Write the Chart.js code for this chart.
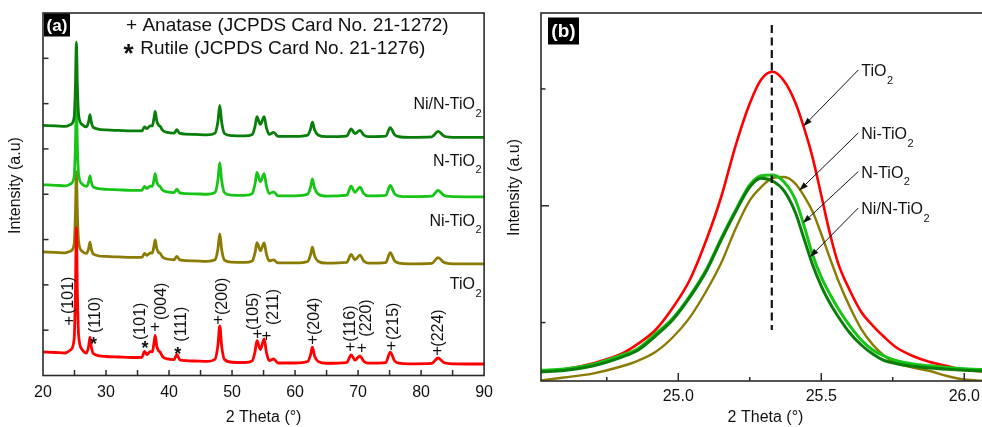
<!DOCTYPE html>
<html>
<head>
<meta charset="utf-8">
<script src="https://cdn.jsdelivr.net/npm/chart.js@4.4.1/dist/chart.umd.min.js"></script>
<style>
  html, body { margin: 0; padding: 0; background: #fff; overflow: hidden; }
  body { width: 982px; height: 427px; position: relative; }
  canvas { position: absolute; top: 0; }
  #xrd-full { left: 0; }
  #xrd-peak { left: 495px; }
</style>
</head>
<body>
<canvas id="xrd-full" width="500" height="427"></canvas>
<canvas id="xrd-peak" width="505" height="427"></canvas>
<script>
const FONT = '"Liberation Sans", Arial, Helvetica, sans-serif';

// ---- (a) full XRD patterns, 2 theta 20-90 ----
const twoTheta = [20, 22, 23.5, 24.4, 24.95, 25.15, 25.3, 25.45, 25.65, 26.2, 26.9, 27.25, 27.45, 27.65, 28,
  30, 32, 34, 35.7, 36.1, 36.5, 37, 37.35, 37.6, 37.8, 38.05, 38.35, 38.6, 38.95, 39.7,
  40.8, 41.25, 41.7, 44, 46, 47.3, 47.75, 48.05, 48.35, 48.8, 50, 52, 53.2, 53.65, 53.95,
  54.5, 55.1, 55.45, 55.9, 56.6, 57.3, 60, 62, 62.45, 62.75, 63.1, 63.7, 65, 68.2, 68.9,
  69.5, 70.3, 70.9, 71.6, 74.4, 75.1, 75.8, 76.5, 78, 81.7, 82.7, 83.6, 84.5, 87, 90];

const tio2 = [519, 508, 497, 569, 815, 1870, 3260, 1867, 891, 575, 496, 651, 847, 647, 482,
  419, 408, 397, 403, 531, 464, 526, 524, 704, 885, 649, 544, 516, 420, 366,
  351, 465, 345, 320, 310, 358, 658, 1093, 655, 352, 292, 287, 323, 526, 768,
  573, 809, 517, 330, 364, 276, 276, 309, 451, 626, 432, 307, 270, 286, 454,
  341, 431, 314, 272, 286, 514, 323, 271, 257, 267, 386, 287, 261, 254, 254];

const niTiO2 = [2727, 2716, 2705, 2748, 2906, 3593, 4497, 3590, 2954, 2744, 2693, 2804, 2945, 2800, 2679,
  2627, 2616, 2605, 2605, 2694, 2651, 2704, 2702, 2848, 2994, 2803, 2717, 2694, 2616, 2571,
  2555, 2631, 2549, 2528, 2518, 2553, 2786, 3124, 2783, 2547, 2500, 2495, 2527, 2712, 2932,
  2754, 2929, 2685, 2529, 2550, 2484, 2484, 2517, 2659, 2834, 2640, 2515, 2478, 2495, 2673,
  2554, 2656, 2527, 2481, 2493, 2711, 2528, 2478, 2465, 2476, 2601, 2497, 2469, 2462, 2462];

const nTiO2 = [4209, 4198, 4187, 4231, 4391, 5086, 6001, 5083, 4439, 4227, 4173, 4275, 4405, 4271, 4159,
  4109, 4098, 4087, 4087, 4176, 4131, 4179, 4177, 4315, 4453, 4272, 4191, 4169, 4096, 4052,
  4037, 4113, 4031, 4010, 4000, 4041, 4308, 4695, 4305, 4035, 3982, 3977, 4015, 4227, 4480,
  4276, 4455, 4187, 4016, 4054, 3966, 3966, 4002, 4152, 4338, 4132, 4000, 3960, 3979, 4177,
  4044, 4154, 4014, 3964, 3975, 4193, 4010, 3960, 3947, 3958, 4083, 3979, 3951, 3944, 3944];

const niNTiO2 = [5519, 5508, 5497, 5542, 5706, 6418, 7355, 6415, 5756, 5539, 5487, 5607, 5759, 5603, 5473,
  5419, 5408, 5397, 5397, 5486, 5447, 5509, 5507, 5669, 5830, 5619, 5524, 5499, 5414, 5364,
  5347, 5423, 5341, 5320, 5310, 5348, 5598, 5960, 5595, 5342, 5292, 5287, 5318, 5499, 5713,
  5540, 5710, 5472, 5320, 5364, 5276, 5276, 5306, 5434, 5593, 5417, 5304, 5270, 5285, 5443,
  5337, 5409, 5307, 5271, 5282, 5470, 5312, 5269, 5257, 5267, 5386, 5287, 5261, 5254, 5254];

const sampleNames = ['Ni/N-TiO_2', 'N-TiO_2', 'Ni-TiO_2', 'TiO_2'];
const sampleLabelX = [89.53, 89.53, 89.53, 89.53];
const sampleLabelY = [5973, 4721, 3396, 1998];

// reflection labels (anatase +, rutile *)
const hklText = ['(101)', '(110)', '(101)', '(004)', '(111)', '(200)', '(105)', '(211)', '(204)', '(116)', '(220)', '(215)', '(224)'];
const hklX = [24.11, 28.39, 35.42, 38.8, 41.92, 48.44, 53.39, 56.52, 63.13, 68.75, 71.36, 75.63, 82.81];
const hklY = [1358, 938, 784, 1225, 746, 1336, 1005, 1115, 894, 746, 857, 784, 636];
const phaseMark = ['+', '*', '*', '+', '*', '+', '+', '+', '+', '+', '+', '+', '+'];
const markX = [24.11, 28.02, 36.2, 37.77, 41.4, 47.77, 54.02, 55.47, 62.77, 68.75, 70.58, 75.27, 82.55];
const markY = [1188, 762, 673, 1064, 541, 1210, 916, 872, 784, 614, 601, 651, 526];

const phaseSymbols = ['+', '*'];
const phaseNames = ['Anatase (JCPDS Card No. 21-1272)', 'Rutile (JCPDS Card No. 21-1276)'];
const phaseSymX = [34.06, 33.59];
const phaseTextX = [35.78, 35.42];
const phaseY = [7717, 7214];

// ---- (b) zoom on the anatase (101) peak ----
const twoThetaZoom = [24.52, 24.60, 24.70, 24.80, 24.86, 24.92, 24.98, 25.04, 25.10, 25.15, 25.20, 25.25,
  25.29, 25.33, 25.37, 25.41, 25.44, 25.47, 25.50, 25.53, 25.56, 25.60, 25.64, 25.68,
  25.72, 25.76, 25.82, 25.88, 25.94, 26.00, 26.06, 26.10];
const tio2Zoom = [1154, 1197, 1300, 1462, 1640, 1873, 2250, 2729, 3440, 4150, 5023, 5751,
  6162, 6294, 6136, 5760, 5330, 4820, 4180, 3530, 3000, 2549, 2181, 1950,
  1753, 1582, 1428, 1325, 1257, 1193, 1166, 1154];
const niTiO2Zoom = [1009, 1060, 1127, 1248, 1349, 1496, 1745, 2085, 2558, 3020, 3602, 4092,
  4321, 4475, 4492, 4376, 4167, 3897, 3517, 3106, 2712, 2267, 1890, 1623,
  1433, 1308, 1229, 1171, 1086, 1026, 1005, 1000];
const nTiO2Zoom = [1185, 1205, 1282, 1437, 1556, 1805, 2070, 2455, 2926, 3440, 3919, 4356,
  4515, 4527, 4407, 4099, 3654, 3157, 2780, 2489, 2233, 1942, 1702, 1531,
  1428, 1351, 1291, 1260, 1233, 1211, 1195, 1188];
const niNTiO2Zoom = [1159, 1180, 1257, 1406, 1531, 1770, 2044, 2430, 2900, 3414, 3893, 4321,
  4470, 4424, 4253, 3876, 3431, 2986, 2626, 2335, 2096, 1822, 1616, 1462,
  1351, 1300, 1252, 1223, 1202, 1185, 1171, 1163];

const peakRefX = [25.327, 25.327];
const peakRefY = [7095, 1873];

const zoomTicksX = [24.75, 25, 25.25, 25.5, 25.75, 26];
const zoomTicksY = [2000, 4000, 6000];

const calloutNames = ['TiO_2', 'Ni-TiO_2', 'N-TiO_2', 'Ni/N-TiO_2'];
const calloutX = [25.64, 25.64, 25.64, 25.64];
const calloutY = [6290, 5212, 4552, 3928];
const calloutTipX = [25.437, 25.423, 25.435, 25.46];
const calloutTipY = [5360, 4260, 3700, 3120];

const RED = '#ff0000';
const OLIVE = '#8a7b04';
const LIGHT_GREEN = '#17c417';
const DARK_GREEN = '#0a7e0a';

Chart.defaults.font.family = FONT;
Chart.defaults.font.size = 16;
Chart.defaults.color = '#111';

function points(xs, ys) {
  return xs.map((x, i) => ({ x: x, y: ys[i] }));
}

function trace(label, xs, ys, color, width) {
  return {
    label: label,
    data: points(xs, ys),
    borderColor: color,
    borderWidth: width,
    pointRadius: 0,
    fill: false,
    cubicInterpolationMode: 'monotone',
  };
}

function drawChem(ctx, label, px, py, align, size) {
  const parts = label.split('_');
  const main = parts[0];
  const sub = parts[1];
  const subSize = Math.round(size * 0.68);
  ctx.font = size + 'px ' + FONT;
  const wMain = ctx.measureText(main).width;
  ctx.font = subSize + 'px ' + FONT;
  const wSub = sub ? ctx.measureText(sub).width : 0;
  const left = align === 'right' ? px - wMain - wSub : px;
  ctx.textAlign = 'left';
  ctx.textBaseline = 'middle';
  ctx.font = size + 'px ' + FONT;
  ctx.fillText(main, left, py);
  if (sub) {
    ctx.font = subSize + 'px ' + FONT;
    ctx.fillText(sub, left + wMain + 0.5, py + size * 0.55);
  }
}

function drawMark(ctx, sym, px, py, size) {
  ctx.textAlign = 'center';
  ctx.textBaseline = 'middle';
  if (sym === '*') {
    ctx.font = 'bold ' + size + 'px ' + FONT;
    ctx.fillText(sym, px, py + size * 0.22);
  } else {
    ctx.font = size + 'px ' + FONT;
    ctx.fillText(sym, px, py);
  }
}

function isMajor(v, step) {
  return Math.abs(v / step - Math.round(v / step)) < 1e-6;
}

// box, inward ticks, y title and the panel tag
const framePlugin = {
  id: 'frame',
  afterDraw(chart, args, opts) {
    const ctx = chart.ctx;
    const a = chart.chartArea;
    const sx = chart.scales.x;
    const sy = chart.scales.y;
    ctx.save();
    ctx.strokeStyle = '#2a2a2a';
    ctx.lineWidth = 1.6;
    ctx.strokeRect(a.left, a.top, a.right - a.left, a.bottom - a.top);
    ctx.lineWidth = 1.5;
    sx.ticks.forEach(t => {
      const px = sx.getPixelForValue(t.value);
      if (px <= a.left + 1 || px >= a.right - 1) return;
      const len = isMajor(t.value, opts.xMajorStep) ? opts.xMajorLen : opts.xMinorLen;
      ctx.beginPath();
      ctx.moveTo(px, a.bottom);
      ctx.lineTo(px, a.bottom - len);
      ctx.stroke();
    });
    sy.ticks.forEach(t => {
      const py = sy.getPixelForValue(t.value);
      if (py <= a.top + 1 || py >= a.bottom - 1) return;
      const len = isMajor(t.value, opts.yMajorStep) ? opts.yMajorLen : opts.yMinorLen;
      ctx.beginPath();
      ctx.moveTo(a.left, py);
      ctx.lineTo(a.left + len, py);
      ctx.stroke();
    });

    ctx.fillStyle = '#111';
    ctx.save();
    ctx.translate(a.left + opts.yTitleDx, (a.top + a.bottom) / 2 + opts.yTitleDy);
    ctx.rotate(-Math.PI / 2);
    ctx.font = '16px ' + FONT;
    ctx.textAlign = 'center';
    ctx.textBaseline = 'middle';
    ctx.fillText(opts.yTitle, 0, 0);
    ctx.restore();

    ctx.fillStyle = '#000';
    ctx.fillRect(a.left + opts.tagX, a.top + opts.tagY, opts.tagW, opts.tagH);
    ctx.fillStyle = '#fff';
    ctx.font = 'bold ' + opts.tagSize + 'px ' + FONT;
    ctx.textAlign = 'center';
    ctx.textBaseline = 'middle';
    ctx.fillText(opts.tag, a.left + opts.tagX + opts.tagW / 2, a.top + opts.tagY + opts.tagH / 2 + 1);
    ctx.restore();
  }
};

const xrdLabels = {
  id: 'xrdLabels',
  afterDraw(chart) {
    const ctx = chart.ctx;
    const sx = chart.scales.x;
    const sy = chart.scales.y;
    ctx.save();
    ctx.fillStyle = '#111';
    hklText.forEach((t, i) => {
      ctx.save();
      ctx.translate(sx.getPixelForValue(hklX[i]), sy.getPixelForValue(hklY[i]));
      ctx.rotate(-Math.PI / 2);
      ctx.font = '16px ' + FONT;
      ctx.textAlign = 'left';
      ctx.textBaseline = 'middle';
      ctx.fillText(t, 0, 0);
      ctx.restore();
      drawMark(ctx, phaseMark[i], sx.getPixelForValue(markX[i]), sy.getPixelForValue(markY[i]),
        phaseMark[i] === '*' ? 18 : 17);
    });
    sampleNames.forEach((name, i) => {
      drawChem(ctx, name, sx.getPixelForValue(sampleLabelX[i]), sy.getPixelForValue(sampleLabelY[i]), 'right', 16);
    });
    phaseNames.forEach((name, i) => {
      const py = sy.getPixelForValue(phaseY[i]);
      drawMark(ctx, phaseSymbols[i], sx.getPixelForValue(phaseSymX[i]), py, phaseSymbols[i] === '*' ? 26 : 19);
      ctx.font = '19px ' + FONT;
      ctx.textAlign = 'left';
      ctx.textBaseline = 'middle';
      ctx.fillText(name, sx.getPixelForValue(phaseTextX[i]), py);
    });
    ctx.restore();
  }
};

const callouts = {
  id: 'callouts',
  afterDraw(chart) {
    const ctx = chart.ctx;
    const sx = chart.scales.x;
    const sy = chart.scales.y;
    ctx.save();
    ctx.strokeStyle = '#111';
    ctx.fillStyle = '#111';
    ctx.lineWidth = 1;
    calloutNames.forEach((name, i) => {
      const tx = sx.getPixelForValue(calloutX[i]);
      const ty = sy.getPixelForValue(calloutY[i]);
      const hx = sx.getPixelForValue(calloutTipX[i]);
      const hy = sy.getPixelForValue(calloutTipY[i]);
      const x0 = tx - 3;
      const y0 = ty - 2;
      const ang = Math.atan2(hy - y0, hx - x0);
      const headLen = 9;
      const headHalf = 3;
      const bx = hx - headLen * Math.cos(ang);
      const by = hy - headLen * Math.sin(ang);
      ctx.beginPath();
      ctx.moveTo(x0, y0);
      ctx.lineTo(bx, by);
      ctx.stroke();
      ctx.beginPath();
      ctx.moveTo(hx, hy);
      ctx.lineTo(bx + headHalf * Math.sin(ang), by - headHalf * Math.cos(ang));
      ctx.lineTo(bx - headHalf * Math.sin(ang), by + headHalf * Math.cos(ang));
      ctx.closePath();
      ctx.fill();
      drawChem(ctx, name, tx, ty, 'left', 16);
    });
    ctx.restore();
  }
};

new Chart(document.getElementById('xrd-full'), {
  type: 'line',
  data: {
    datasets: [
      trace('Ni/N-TiO2', twoTheta, niNTiO2, DARK_GREEN, 2.8),
      trace('N-TiO2', twoTheta, nTiO2, LIGHT_GREEN, 2.8),
      trace('TiO2', twoTheta, tio2, RED, 2.8),
      trace('Ni-TiO2', twoTheta, niTiO2, OLIVE, 2.8),
    ],
  },
  options: {
    responsive: false,
    animation: false,
    devicePixelRatio: 1,
    events: [],
    layout: { padding: { left: 0, top: 13, right: 9, bottom: 0 } },
    plugins: {
      legend: { display: false },
      tooltip: { enabled: false },
      frame: {
        xMajorStep: 10, xMajorLen: 5.5, xMinorLen: 5.5,
        yMajorStep: 1000, yMajorLen: 5.5, yMinorLen: 5.5,
        yTitle: 'Intensity (a.u)', yTitleDx: -27.2, yTitleDy: -8.7,
        tag: '(a)', tagX: 1, tagY: 0.5, tagW: 26, tagH: 23, tagSize: 17,
      },
    },
    scales: {
      x: {
        type: 'linear',
        min: 20,
        max: 90,
        grid: { display: false, drawTicks: false },
        border: { display: false },
        ticks: {
          stepSize: 5,
          autoSkip: false,
          maxRotation: 0,
          padding: 7,
          callback: v => (v % 10 === 0 ? String(v) : ''),
        },
        title: { display: true, text: '2 Theta (\u00b0)', padding: { top: 0, bottom: 0 } },
        afterFit: s => { s.height = 51.5; },
      },
      y: {
        type: 'linear',
        min: 0,
        max: 8000,
        grid: { display: false, drawTicks: false },
        border: { display: false },
        ticks: { stepSize: 1000, display: false },
        afterFit: s => { s.width = 43; },
      },
    },
  },
  plugins: [framePlugin, xrdLabels],
});

new Chart(document.getElementById('xrd-peak'), {
  type: 'line',
  data: {
    datasets: [
      {
        label: 'peak position',
        data: points(peakRefX, peakRefY),
        borderColor: '#111',
        borderWidth: 2.2,
        borderDash: [8, 4.5],
        pointRadius: 0,
        fill: false,
      },
      trace('Ni/N-TiO2', twoThetaZoom, niNTiO2Zoom, DARK_GREEN, 3),
      trace('N-TiO2', twoThetaZoom, nTiO2Zoom, LIGHT_GREEN, 3),
      trace('Ni-TiO2', twoThetaZoom, niTiO2Zoom, OLIVE, 2.4),
      trace('TiO2', twoThetaZoom, tio2Zoom, RED, 2.6),
    ],
  },
  options: {
    responsive: false,
    animation: false,
    devicePixelRatio: 1,
    events: [],
    layout: { padding: { left: 0, top: 13, right: 10, bottom: 0 } },
    plugins: {
      legend: { display: false },
      tooltip: { enabled: false },
      frame: {
        xMajorStep: 0.5, xMajorLen: 8, xMinorLen: 4,
        yMajorStep: 4000, yMajorLen: 8, yMinorLen: 4.5,
        yTitle: 'Intensity (a.u)', yTitleDx: -26.8, yTitleDy: -9.5,
        tag: '(b)', tagX: 7, tagY: 4.5, tagW: 31, tagH: 27, tagSize: 19,
      },
    },
    scales: {
      x: {
        type: 'linear',
        min: 24.52,
        max: 26.09,
        grid: { display: false, drawTicks: false },
        border: { display: false },
        afterBuildTicks: s => { s.ticks = zoomTicksX.map(v => ({ value: v })); },
        ticks: {
          autoSkip: false,
          maxRotation: 0,
          padding: 6,
          callback: v => (isMajor(v, 0.5) ? v.toFixed(1) : ''),
        },
        title: { display: true, text: '2 Theta (\u00b0)', padding: { top: 0, bottom: 0 } },
        afterFit: s => { s.height = 46; },
      },
      y: {
        type: 'linear',
        min: 1000,
        max: 7300,
        grid: { display: false, drawTicks: false },
        border: { display: false },
        afterBuildTicks: s => { s.ticks = zoomTicksY.map(v => ({ value: v })); },
        ticks: { display: false },
        afterFit: s => { s.width = 46; },
      },
    },
  },
  plugins: [framePlugin, callouts],
});
</script>
</body>
</html>
